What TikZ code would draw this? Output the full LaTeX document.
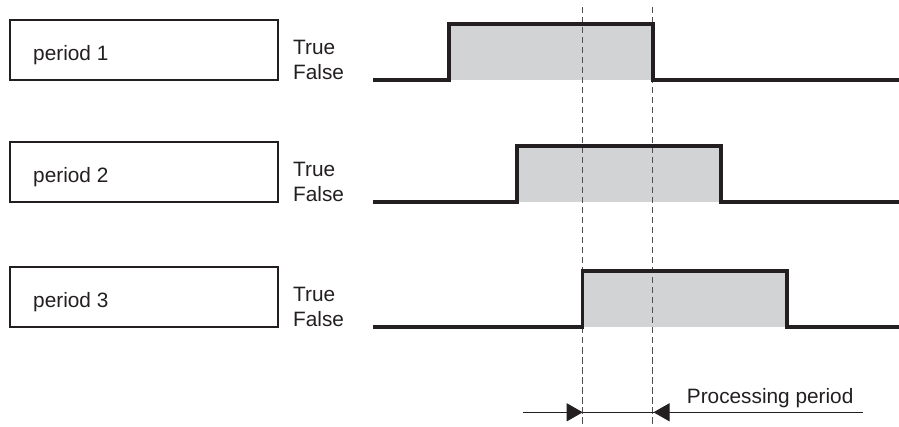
\documentclass[tikz,border=0pt]{standalone}
\usepackage{fontspec}
\setmainfont{Liberation Sans}
\usetikzlibrary{arrows.meta}
\definecolor{ink}{HTML}{231F20}
\definecolor{shade}{HTML}{D1D3D4}
\definecolor{dashc}{HTML}{505050}
\begin{document}
\begin{tikzpicture}[x=1pt,y=-1pt,
  every node/.style={font=\fontsize{20.8}{25}\selectfont, text=ink, inner sep=0pt},
  pbox/.style={draw=ink, line width=2pt, minimum width=268pt, minimum height=60.5pt, inner sep=0pt},
  lbl/.style={anchor=base west},
  wave/.style={draw=ink, line width=3.8pt, line join=miter, line cap=butt},
  fillbox/.style={fill=shade, draw=none},
  guide/.style={draw=dashc, line width=1.5pt, dash pattern=on 6.5pt off 3.5pt},
  dim/.style={draw=ink, line width=1pt},
  tip/.style={-{Triangle[length=16pt,width=18pt]}}]
\useasboundingbox (0,0) rectangle (899,427);
% boxes
\node[pbox] (b1) at (144,50) {};
\node[pbox] (b2) at (144,172) {};
\node[pbox] (b3) at (144,297) {};
\node[lbl] (t1) at (33,60.7) {period 1};
\node[lbl] (t2) at (33,182.7) {period 2};
\node[lbl] (t3) at (33,307.5) {period 3};
% True/False
\node[lbl] (tr1) at (293,55) {True};
\node[lbl] (fa1) at (293,80) {False};
\node[lbl] (tr2) at (293,177) {True};
\node[lbl] (fa2) at (293,202) {False};
\node[lbl] (tr3) at (293,301.7) {True};
\node[lbl] (fa3) at (293,326.7) {False};
% fills
\path[fillbox] (449,24) rectangle (652.7,80);
\path[fillbox] (517,146) rectangle (720.7,202);
\path[fillbox] (582.5,271) rectangle (786.8,327);
% guides
\coordinate (g1top) at (582.7,7);
\coordinate (g1bot) at (582.7,427);
\coordinate (g2top) at (652.7,7);
\coordinate (g2bot) at (652.7,427);
\draw[guide] (g1top) -- (g1bot);
\draw[guide] (g2top) -- (g2bot);
% waveforms
\draw[wave] (373.3,80) -- (449,80) -- (449,24) -- (652.7,24) -- (652.7,80) -- (899,80);
\draw[wave] (373.3,202) -- (517,202) -- (517,146) -- (720.7,146) -- (720.7,202) -- (899,202);
\draw[wave] (373.3,327) -- (582.5,327) -- (582.5,271) -- (786.8,271) -- (786.8,327) -- (899,327);
% dimension arrows
\coordinate (aL) at (522.7,412.3);
\coordinate (d1) at (582.7,412.3);
\coordinate (d2) at (653.5,412.3);
\coordinate (aR) at (862.7,412.3);
\draw[dim,tip] (aL) -- (d1);
\draw[dim] (d1) -- (d2);
\draw[dim,tip] (aR) -- (d2);
\node[lbl] (pp) at (686.7,403.3) {Processing period};
\end{tikzpicture}
\end{document}
